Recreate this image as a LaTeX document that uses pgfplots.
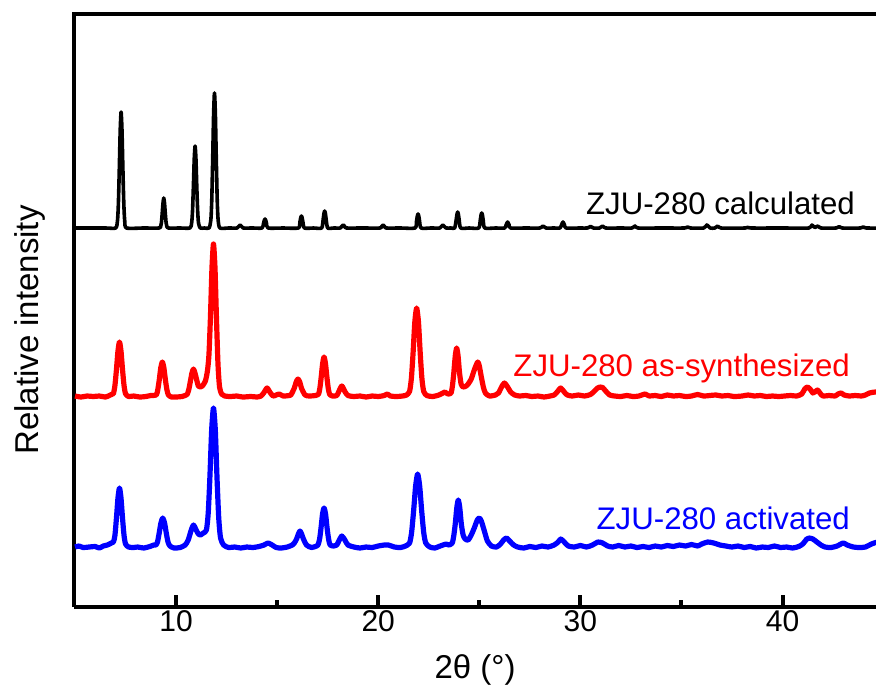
\documentclass[border=0pt]{standalone}
\usepackage{fontspec}
\setmainfont{Liberation Sans}
\usepackage{pgfplots}
\usepackage{pgfplotstable}
\pgfplotsset{compat=1.18}

% heights above each pattern's own baseline (arbitrary units)
\pgfplotstableread{
x y
5.0 0
6.5 0
7.01 0
7.10 7
7.145 24
7.19 58
7.235 97
7.28 116
7.325 97
7.37 58
7.415 24
7.46 7
7.55 0
8.4 0
9.165 0
9.24 2
9.278 6
9.315 15
9.353 25
9.39 30
9.428 25
9.465 15
9.503 6
9.54 2
9.615 0
10.2 0
10.685 0
10.77 5
10.813 17
10.855 41
10.898 69
10.94 82
10.983 69
11.025 41
11.068 17
11.11 5
11.195 0
11.4 0
11.63 0
11.72 8
11.765 28
11.81 68
11.855 113
11.9 135
11.945 113
11.99 68
12.035 28
12.08 8
12.17 0
12.6 0
13.02 0
13.095 1.5
13.17 3
13.245 1.5
13.32 0
13.8 0
14.25 0
14.325 4.5
14.363 7.6
14.4 9
14.438 7.6
14.475 4.5
14.55 0
15.3 0
16.05 0
16.125 6
16.163 10
16.2 12
16.238 10
16.275 6
16.35 0
16.8 0
17.2 0
17.275 8.5
17.313 14.3
17.35 17
17.388 14.3
17.425 8.5
17.5 0
17.8 0
18.12 0
18.195 1.5
18.27 3
18.345 1.5
18.42 0
19.2 0
20.09 0
20.165 1.5
20.24 3
20.315 1.5
20.39 0
21.1 0
21.82 0
21.895 7
21.933 11.8
21.97 14
22.008 11.8
22.045 7
22.12 0
22.6 0
23.05 0
23.125 1.5
23.2 3
23.275 1.5
23.35 0
23.6 0
23.78 0
23.855 8
23.893 13.4
23.93 16
23.968 13.4
24.005 8
24.08 0
24.5 0
24.97 0
25.045 7.5
25.083 12.6
25.12 15
25.158 12.6
25.195 7.5
25.27 0
25.8 0
26.25 0
26.325 3
26.4 6
26.475 3
26.55 0
27.3 0
28.0 0
28.15 2
28.3 0
28.7 0
28.99 0
29.065 3
29.14 6
29.215 3
29.29 0
30.0 0
30.35 0
30.5 1.5
30.65 0
30.95 0
31.1 2
31.25 0
32.0 0
32.55 0
32.7 2
32.85 0
34.0 0
35.15 0
35.3 1
35.45 0
36.1 0
36.26 3
36.42 0
36.65 0
36.8 2
36.95 0
38.15 0
38.3 1
38.45 0
40.0 0
41.3 0
41.45 3
41.6 0.5
41.75 2
41.9 0
42.65 0
42.8 1.5
42.95 0
43.85 0
44.0 1
44.15 0
45.2 0
}\tabcalculated

\pgfplotstableread{
x y
5.0 1
5.3 0
5.6 1
5.9 0.5
6.2 1
6.5 0
6.7 1.5
6.85 3
6.9 3.3
6.975 11.5
7.05 27.5
7.125 46
7.2 55
7.275 46
7.35 27.5
7.425 11.5
7.5 3.3
7.65 0.5
7.9 1
8.2 0
8.5 0.5
8.75 1.5
9.02 2
9.095 7.4
9.17 17.5
9.245 29.4
9.32 35
9.395 29.4
9.47 17.5
9.545 7.4
9.62 2
9.77 0
10.0 0
10.3 0.5
10.5 2
10.56 3
10.635 8
10.71 16
10.785 24
10.86 28
10.935 24
11.01 18
11.1 11
11.2 10
11.3 11
11.45 16
11.55 26
11.625 42
11.7 80
11.775 129
11.85 153
11.925 129
12.0 77
12.075 32
12.15 10
12.25 3
12.4 1
12.7 0.5
13.0 1
13.3 0
13.7 0.5
14.0 0
14.2 1
14.35 4.5
14.5 9
14.65 4.5
14.8 1
14.95 2
15.1 3
15.3 1
15.6 1.5
15.68 2
15.85 9
15.94 15
16.03 18
16.12 15
16.2 9
16.38 2
16.6 1
16.9 1.5
17.04 2.5
17.11 8.4
17.18 20
17.25 33.6
17.32 40
17.39 33.6
17.46 20
17.53 8.4
17.6 2.5
17.75 1
17.95 1.5
18.05 5.5
18.2 11
18.35 5.5
18.5 1.5
18.8 0.5
19.1 1
19.4 0
19.7 1
20.0 0.5
20.3 1.5
20.45 3
20.6 1
20.9 0.5
21.2 1
21.4 2
21.55 5.6
21.64 18.7
21.725 44.5
21.81 75
21.9 89
21.99 75
22.075 44.5
22.16 18.7
22.25 5.6
22.4 1.5
22.7 0.5
23.0 2
23.2 4
23.3 5
23.45 3
23.6 4
23.67 11
23.74 24.5
23.81 41
23.88 49
23.95 41
24.02 24.5
24.1 13
24.2 10
24.35 11
24.45 13
24.6 18
24.75 27
24.92 35
25.0 31
25.1 20
25.2 10
25.3 4
25.5 1
25.8 2
25.95 4
26.1 10
26.24 14
26.4 10
26.55 5
26.75 2
27.0 1
27.3 1.5
27.6 0.5
27.9 1
28.2 0
28.5 1
28.7 2
28.85 5
29.03 9
29.2 5
29.35 2
29.6 1
29.9 2
30.2 1
30.5 2.5
30.7 6
30.85 9
30.97 10
31.1 9.5
31.25 6
31.45 2
31.7 1
32.0 0.5
32.3 1.5
32.6 0.5
32.9 1
33.2 3
33.4 1
33.7 1.5
34.0 0.5
34.3 2
34.6 1
34.9 1.5
35.2 0.5
35.5 1
35.8 2.5
36.1 1
36.4 1.5
36.7 2
37.0 1
37.3 1.5
37.6 0.5
38.0 1
38.3 2
38.6 1
38.9 1.5
39.2 0.5
39.5 1
39.8 0.5
40.1 1
40.4 1.5
40.7 1
40.95 3
41.1 8
41.24 10
41.4 7
41.5 4
41.6 5
41.73 7
41.85 4
42.0 1
42.3 1.5
42.6 1
42.75 3
42.9 4
43.05 2
43.3 1
43.6 1.5
43.9 1
44.1 2
44.3 4
44.6 5
45.0 4
}\tabassynth

\pgfplotstableread{
x y
5.0 1
5.2 2
5.4 0.5
5.7 1
6.0 1.5
6.2 0
6.4 2
6.6 3
6.8 5
6.9 6
6.975 12.6
7.05 30
7.125 50
7.2 60
7.275 50
7.35 30
7.425 12.6
7.5 4
7.65 1
7.9 0.5
8.1 1
8.4 0
8.7 1.5
8.9 3
9.0 3
9.08 6
9.165 15
9.25 25
9.34 30
9.43 25
9.515 15
9.6 6
9.7 2
9.9 0
10.2 0.5
10.45 3
10.6 8
10.75 18
10.86 23
10.97 19
11.1 14
11.2 13
11.35 15
11.5 18
11.59 35
11.675 72
11.76 118
11.85 140
11.94 118
12.025 70
12.11 30
12.2 10
12.35 3
12.6 0.5
12.9 1
13.2 0
13.5 1
13.8 0.5
14.1 1.5
14.35 3
14.55 5
14.75 3
14.95 0.5
15.2 0
15.5 1
15.75 3
15.85 5
15.96 9
16.13 17
16.3 9
16.45 3
16.7 0.5
16.95 2
17.02 3
17.1 9
17.17 20
17.245 34
17.32 40
17.395 34
17.47 20
17.545 9
17.62 3
17.8 2
17.95 3
18.05 7
18.2 12
18.35 8
18.5 3
18.8 1
19.1 0
19.4 1
19.7 0.5
20.0 2
20.3 3
20.5 3
20.8 1
21.1 0.5
21.35 2
21.55 5
21.65 15.5
21.75 37
21.85 62
21.95 74
22.05 62
22.15 37
22.25 15.5
22.35 5
22.55 1
22.8 0
23.0 1.5
23.2 3
23.35 4
23.5 3
23.66 5
23.735 12
23.81 24
23.885 40
23.96 48
24.035 40
24.11 24
24.2 13
24.3 9
24.45 8
24.6 13
24.75 20
24.9 28
25.0 30
25.1 27
25.25 17
25.4 7
25.6 2
25.85 1
26.05 4
26.2 8
26.35 10
26.5 7
26.7 3
26.9 1
27.2 0
27.5 1.5
27.8 0.5
28.1 2
28.4 1
28.7 3
28.9 6
29.03 9
29.2 6
29.4 2
29.7 1
30.0 2.5
30.3 1
30.6 3
30.87 6
31.1 5
31.35 2
31.6 1
31.9 2.5
32.2 1
32.5 2
32.8 0.5
33.1 1.5
33.4 0.5
33.7 2
34.0 1
34.3 2.5
34.6 1.5
34.9 3
35.2 2
35.5 3.5
35.8 2
36.0 4
36.3 6
36.6 5
36.9 3
37.2 2
37.5 1
37.8 2
38.1 0.5
38.4 1.5
38.7 0
39.0 1
39.3 0.5
39.6 2
39.9 0.5
40.2 1
40.5 0
40.8 1.5
41.0 4
41.2 9
41.32 10
41.5 9
41.7 6
41.9 3
42.1 1
42.4 0.5
42.7 2
43.0 5
43.2 3
43.5 1
43.8 0.5
44.1 1
44.4 4
44.7 6
45.0 6
}\tabactivated

\begin{document}
\begin{tikzpicture}
\begin{axis}[
  scale only axis,
  width=405pt, height=296.5pt,
  xmin=4.95, xmax=45.02,
  ymin=0, ymax=593,
  axis x line*=bottom,
  axis y line*=left,
  axis line style={line width=2pt},
  xtick={10,20,30,40},
  xticklabels={10,20,30,40},
  minor xtick={15,25,35},
  ytick=\empty,
  xtick align=inside,
  major tick length=6pt,
  minor tick length=3.5pt,
  major tick style={line width=2pt, black},
  minor tick style={line width=2pt, black},
  xticklabel style={font=\fontsize{15}{18}\selectfont, anchor=center, yshift=-7pt},
  xlabel={2θ (°)},
  ylabel={Relative intensity},
  label style={font=\fontsize{16.5}{20}\selectfont},
  x label style={at={(axis description cs:0.4951,-0.106)}, anchor=center},
  y label style={at={(axis description cs:-0.0545,0.467)}, anchor=center, rotate=0},
]
\addplot[black, line width=1.8pt, line join=round, smooth, tension=0.4]
  table[x=x, y expr=\thisrow{y}+379] {\tabcalculated};
\addplot[red, line width=2.6pt, line join=round, smooth, tension=0.4]
  table[x=x, y expr=\thisrow{y}+210] {\tabassynth};
\addplot[blue, line width=2.6pt, line join=round, smooth, tension=0.4]
  table[x=x, y expr=\thisrow{y}+59] {\tabactivated};

% tick marks on the bottom axis (major 10..40, minor 15..35)
\draw[line width=2pt] (axis cs:10,0) -- (axis cs:10,12);
\draw[line width=2pt] (axis cs:20,0) -- (axis cs:20,12);
\draw[line width=2pt] (axis cs:30,0) -- (axis cs:30,12);
\draw[line width=2pt] (axis cs:40,0) -- (axis cs:40,12);
\draw[line width=2pt] (axis cs:15,0) -- (axis cs:15,7);
\draw[line width=2pt] (axis cs:25,0) -- (axis cs:25,7);
\draw[line width=2pt] (axis cs:35,0) -- (axis cs:35,7);

\node[anchor=east, font=\fontsize{15.6}{18}\selectfont, black] at (axis cs:43.93,404) {ZJU-280 calculated};
\node[anchor=east, font=\fontsize{15.6}{18}\selectfont, red] at (axis cs:43.68,239) {ZJU-280 as-synthesized};
\node[anchor=east, font=\fontsize{15.6}{18}\selectfont, blue] at (axis cs:43.68,89) {ZJU-280 activated};
\end{axis}
% top frame line (the original has no right spine inside the cropped picture)
\draw[line width=2pt] ([xshift=-1pt]current axis.north west) -- (current axis.north east);
\pgfresetboundingbox
\path ([shift={(-37pt,-43pt)}]current axis.south west) rectangle ([shift={(401pt,7pt)}]current axis.north west);
\end{tikzpicture}
\end{document}
